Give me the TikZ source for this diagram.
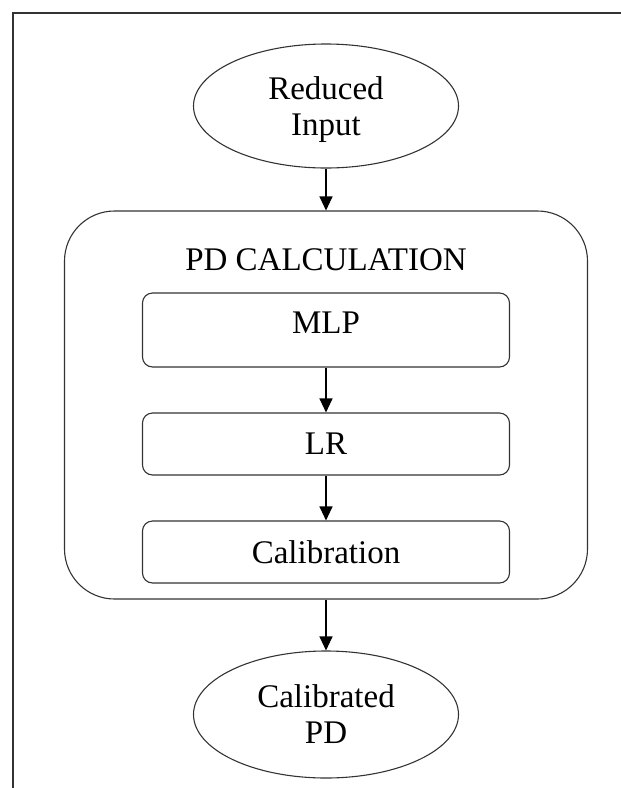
\documentclass[tikz,border=0pt]{standalone}
\usepackage{fontspec}
\setmainfont{Liberation Serif}
\usetikzlibrary{shapes.geometric, arrows.meta}

\begin{document}
\begin{tikzpicture}[x=1pt, y=1pt, >={Triangle[length=14pt, width=13pt]},
  every node/.style={font=\fontsize{33}{36}\selectfont},
  terminal/.style={ellipse, draw=black!80, line width=1.1pt, minimum width=265pt, minimum height=124pt, inner sep=0pt, align=center},
  stage/.style={rectangle, rounded corners=10pt, draw=black!80, line width=1.1pt, minimum width=367pt, minimum height=62pt, inner sep=0pt},
  group/.style={rectangle, rounded corners=50pt, draw=black!80, line width=1.1pt, minimum width=523pt, minimum height=388pt, inner sep=0pt}]
  \useasboundingbox (0,0) rectangle (621,-788);

  % Frame
  \draw[black!80, line width=2pt] (12.5,-788) -- (12.5,-12.5) -- (621,-12.5);

  % Input and output ellipses
  \node (input) [terminal, text height=64pt, text depth=6pt] at (326,-106) {Reduced\\Input};
  \node (output) [terminal, minimum height=127pt] at (326,-714.5) {Calibrated\\PD};

  % PD calculation block
  \node (pdcalc) [group] at (326,-405) {};
  \node (title) [anchor=base] at (326,-270) {PD CALCULATION};
  \node (mlp) [stage, minimum height=74pt, text height=22pt, text depth=16pt] at (326,-330) {MLP};
  \node (lr) [stage] at (326,-444) {LR};
  \node (calib) [stage] at (326,-552) {Calibration};

  % Connectors
  \draw[->, line width=1.1pt] (input) -- (pdcalc);
  \draw[->, line width=1.1pt] (mlp) -- (lr);
  \draw[->, line width=1.1pt] (lr) -- (calib);
  \draw[->, line width=1.1pt] (pdcalc) -- (output);
\end{tikzpicture}
\end{document}
